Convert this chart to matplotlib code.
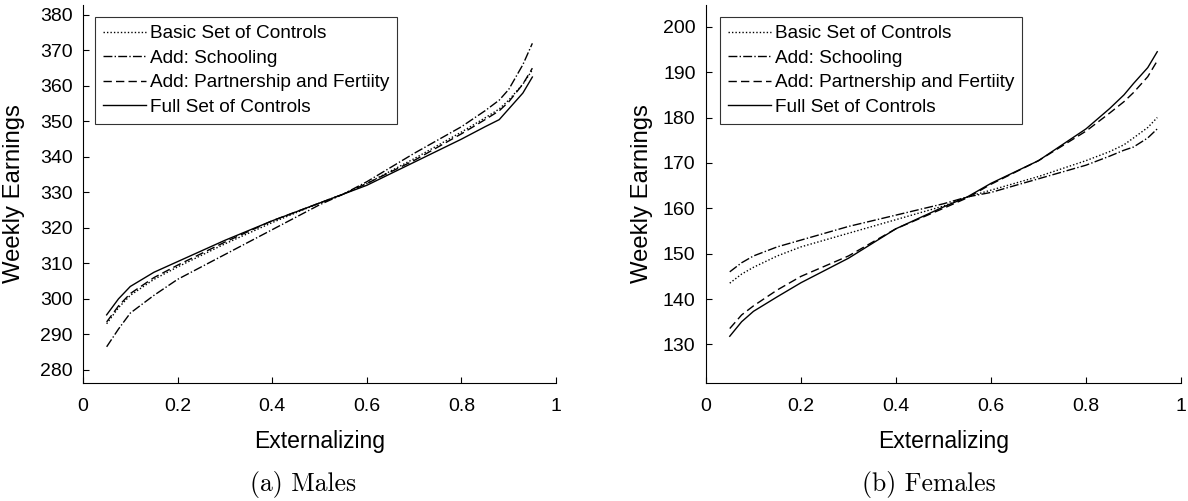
import numpy as np
import matplotlib
matplotlib.use('Agg')
import matplotlib.pyplot as plt

plt.rcParams['font.family'] = ['Liberation Sans', 'DejaVu Sans']

# Eixo x (Externalizing)
x_pts = [0.05, 0.075, 0.1, 0.15, 0.2, 0.3, 0.4, 0.5, 0.55, 0.6, 0.7, 0.8, 0.85, 0.88, 0.9, 0.93, 0.95]

# Homens
males_basic = [293.0, 297.5, 301.0, 305.5, 309.0, 315.5, 321.5, 327.0, 329.5, 332.5, 339.5, 347.0, 351.0, 353.5, 356.0, 360.5, 364.5]
males_school = [286.5, 291.5, 296.0, 301.0, 305.5, 312.5, 319.5, 326.5, 329.5, 333.0, 341.0, 348.5, 353.0, 356.0, 359.0, 366.0, 372.0]
males_partner = [293.5, 298.0, 301.5, 306.0, 309.5, 316.0, 322.0, 327.0, 329.5, 332.5, 339.0, 346.5, 350.5, 353.0, 355.5, 360.5, 365.0]
males_full = [295.5, 300.0, 303.5, 307.5, 310.5, 316.5, 322.0, 327.0, 329.5, 332.0, 338.5, 345.0, 348.5, 350.5, 353.5, 358.0, 362.5]

# Mulheres
fem_basic = [143.5, 145.5, 147.0, 149.5, 151.5, 154.5, 157.5, 160.5, 162.5, 164.0, 167.0, 170.5, 172.5, 174.0, 175.5, 177.8, 180.0]
fem_school = [146.0, 148.0, 149.5, 151.5, 153.0, 156.0, 158.5, 161.0, 162.5, 163.5, 166.5, 169.5, 171.5, 172.8, 173.5, 175.5, 177.5]
fem_partner = [133.5, 136.5, 138.5, 142.0, 145.0, 149.5, 155.5, 160.0, 162.3, 165.3, 170.5, 177.0, 181.0, 183.5, 185.5, 189.0, 192.5]
fem_full = [131.8, 135.0, 137.3, 140.5, 143.6, 149.0, 155.5, 160.3, 162.5, 165.5, 170.5, 177.5, 182.0, 185.0, 187.5, 191.0, 194.5]

labels = ['Basic Set of Controls', 'Add: Schooling', 'Add: Partnership and Fertiity', 'Full Set of Controls']
styles = [(0, (1, 1.5)), '-.', (0, (6, 3)), '-']

fig = plt.figure(figsize=(11.88, 5.01), dpi=100)
ax1 = fig.add_axes([83 / 1188, 1 - 383 / 501, 473 / 1188, 378 / 501])
ax2 = fig.add_axes([706 / 1188, 1 - 383 / 501, 475 / 1188, 378 / 501])

paineis = [
    (ax1, [males_basic, males_school, males_partner, males_full], (276.3, 382.8), np.arange(280, 381, 10), -58 / 473, 12 / 473),
    (ax2, [fem_basic, fem_school, fem_partner, fem_full], (121.5, 204.8), np.arange(130, 201, 10), -53 / 475, 14 / 475),
]

for ax, series, ylim, yticks, ylab_x, leg_x in paineis:
    for vals, ls, lab in zip(series, styles, labels):
        ax.plot(x_pts, vals, color='black', linestyle=ls, linewidth=1.0, label=lab)
    ax.set_xlim(0, 1)
    ax.set_ylim(*ylim)
    ax.set_yticks(yticks)
    ax.set_xticks([0, 0.2, 0.4, 0.6, 0.8, 1])
    ax.set_xticklabels(['0', '0.2', '0.4', '0.6', '0.8', '1'])
    ax.tick_params(direction='in', labelsize=14, length=4, width=0.8)
    ax.tick_params(axis='x', pad=11)
    ax.tick_params(axis='y', pad=7.5)
    ax.spines['top'].set_visible(False)
    ax.spines['right'].set_visible(False)
    ax.set_xlabel('Externalizing', fontsize=16.6)
    ax.xaxis.set_label_coords(0.5, -47 / 378)
    ax.set_ylabel('Weekly Earnings', fontsize=17.2)
    ax.yaxis.set_label_coords(ylab_x, 0.5)
    leg = ax.legend(loc='upper left', bbox_to_anchor=(leg_x, 1 - 12 / 378), fontsize=13.7, frameon=True,
                    fancybox=False, edgecolor='black', handlelength=2.25, handletextpad=0.2,
                    borderpad=0.42, labelspacing=0.38, borderaxespad=0)
    leg.get_frame().set_linewidth(0.8)

fig.text(303 / 1188, 1 - 484 / 501, '(a) Males', fontsize=18.5, family='cmr10', ha='center', va='center')
fig.text(929 / 1188, 1 - 484 / 501, '(b) Females', fontsize=18.5, family='cmr10', ha='center', va='center')

plt.savefig('out.png', dpi=100)
